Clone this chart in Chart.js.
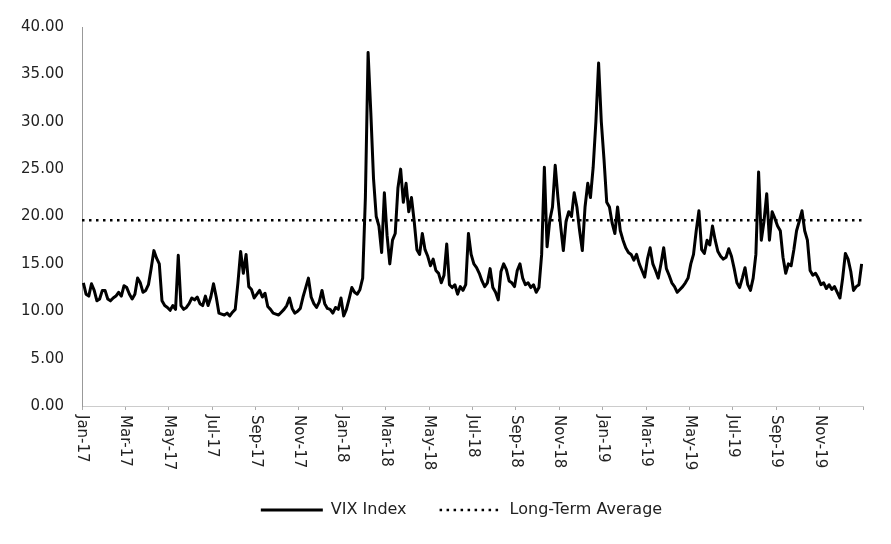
<!DOCTYPE html>
<html>
  <head>
    <title>VIX Index</title>
    <meta http-equiv="Content-Type" content="text/html;charset=utf-8" />
    <script src="https://cdn.jsdelivr.net/npm/chart.js@4"></script>
    <style>
      html, body { margin: 0; padding: 0; background: #fff; }
      #wrap { width: 891px; height: 544px; }
    </style>
    <script>
      // tick labels along the bottom, one every two months
      var monthLabels = ["Jan-17", "Mar-17", "May-17", "Jul-17", "Sep-17", "Nov-17",
        "Jan-18", "Mar-18", "May-18", "Jul-18", "Sep-18", "Nov-18",
        "Jan-19", "Mar-19", "May-19", "Jul-19", "Sep-19", "Nov-19"];
      var yTicks = [0, 5, 10, 15, 20, 25, 30, 35, 40];

      // VIX readings, 8 per month
      var vix2017 = [
        13.0, 11.8, 11.6, 12.9, 12.2, 11.1, 11.3, 12.2,
        12.2, 11.3, 11.1, 11.4, 11.6, 12.0, 11.6, 12.7,
        12.5, 11.8, 11.3, 11.8, 13.5, 13.0, 12.0, 12.2,
        12.8, 14.5, 16.4, 15.6, 15.0, 11.1, 10.6, 10.4,
        10.1, 10.6, 10.2, 15.9, 10.6, 10.2, 10.4, 10.8,
        11.4, 11.2, 11.5, 10.8, 10.6, 11.6, 10.6, 11.5,
        12.9, 11.5, 9.8, 9.7, 9.6, 9.8, 9.5, 9.9,
        10.2, 13.0, 16.3, 14.0, 16.0, 12.6, 12.3, 11.4,
        11.8, 12.2, 11.5, 11.9, 10.5, 10.2, 9.8, 9.7,
        9.6, 9.9, 10.2, 10.6, 11.4, 10.3, 9.8, 10.0,
        10.3, 11.5, 12.5, 13.5, 11.5, 10.8, 10.4, 11.0,
        12.2, 10.8, 10.3, 10.2, 9.8, 10.4, 10.2, 11.4
      ];
      var vix2018 = [
        9.5, 10.2, 11.3, 12.5, 12.0, 11.8, 12.3, 13.5,
        22.0, 37.3, 31.0, 24.0, 20.0, 19.0, 16.2, 22.5,
        18.0, 15.0, 17.5, 18.2, 23.0, 25.0, 21.5, 23.5,
        20.5, 22.0, 19.5, 16.5, 16.0, 18.2, 16.5, 15.8,
        14.8, 15.5, 14.3, 14.0, 13.0, 13.8, 17.1, 12.8,
        12.5, 12.8, 11.8, 12.6, 12.2, 12.8, 18.2, 16.0,
        15.0, 14.6, 14.0, 13.2, 12.6, 13.0, 14.5, 12.5,
        12.0, 11.2, 14.2, 15.0, 14.4, 13.2, 13.0, 12.6,
        14.3, 15.0, 13.5, 12.8, 13.0, 12.5, 12.8, 12.0,
        12.5, 16.0, 25.2, 16.8, 19.6, 21.0, 25.4, 22.0,
        19.0, 16.4, 19.5, 20.5, 20.0, 22.5, 21.0, 18.5,
        16.4, 21.0, 23.5, 22.0, 25.2, 30.0, 36.2, 30.0
      ];
      var vix2019 = [
        26.0, 21.5, 21.0, 19.3, 18.2, 21.0, 18.5, 17.5,
        16.7, 16.2, 16.0, 15.4, 16.0, 15.0, 14.3, 13.6,
        15.5, 16.7, 15.0, 14.3, 13.5, 15.0, 16.7, 14.5,
        13.8, 13.0, 12.6, 12.0, 12.3, 12.6, 13.0, 13.5,
        15.0, 16.0, 18.5, 20.6, 16.5, 16.1, 17.5, 17.0,
        19.0, 17.5, 16.3, 15.8, 15.5, 15.7, 16.6, 15.8,
        14.5, 13.0, 12.5, 13.5, 14.6, 12.8, 12.2, 13.5,
        16.0, 24.7, 17.5, 19.5, 22.4, 17.5, 20.5, 19.8,
        19.0, 18.5, 15.7, 14.0, 15.0, 14.8, 16.5, 18.5,
        19.5, 20.6, 18.5, 17.5, 14.3, 13.8, 14.0, 13.5,
        12.8, 13.0, 12.4, 12.8, 12.3, 12.6, 12.0, 11.4,
        13.5, 16.1, 15.5, 14.2, 12.2, 12.6, 12.8, 15.0
      ];
      var longTermAverage = 19.6;
      var perMonth = 8;
      var totalMonths = 36;
    </script>
  </head>
  <body>
    <div id="wrap"><canvas id="c" width="891" height="544"></canvas></div>
    <script>
      var fontFamily = "'DejaVu Sans', sans-serif";
      var textColor = "#222";

      var vixAll = vix2017.concat(vix2018, vix2019);
      var vixPoints = vixAll.map(function (v, i) {
        // x in months since Jan-17, sample sits inside its month
        return { x: Math.floor(i / perMonth) + ((i % perMonth) + 0.5) / perMonth, y: v };
      });
      var avgPoints = [
        { x: 0, y: longTermAverage },
        { x: totalMonths, y: longTermAverage },
      ];

      // Excel-style labels that read top to bottom
      var rotatedLabels = {
        id: "rotatedLabels",
        afterDraw: function (chart) {
          var xs = chart.scales.x;
          var ctx = chart.ctx;
          ctx.save();
          ctx.font = "15px " + fontFamily;
          ctx.fillStyle = textColor;
          ctx.textAlign = "left";
          ctx.textBaseline = "middle";
          for (var i = 0; i < monthLabels.length; i++) {
            var px = xs.getPixelForValue(i * 2);
            ctx.save();
            ctx.translate(px, xs.top + 9);
            ctx.rotate(Math.PI / 2);
            ctx.fillText(monthLabels[i], 0, 0);
            ctx.restore();
          }
          ctx.restore();
        },
      };

      // legend sits a little right of the canvas centre in the original
      var legendNudge = {
        id: "legendNudge",
        afterLayout: function (chart) {
          if (chart.legend) {
            chart.legend.left += 30;
            chart.legend.right += 30;
          }
        },
      };

      new Chart(document.getElementById("c"), {
        type: "line",
        data: {
          datasets: [
            {
              label: "VIX Index",
              data: vixPoints,
              borderColor: "#000",
              backgroundColor: "#000",
              borderWidth: 3,
              borderJoinStyle: "round",
              pointRadius: 0,
              pointStyle: "line",
              tension: 0,
            },
            {
              label: "Long-Term Average",
              data: avgPoints,
              borderColor: "#000",
              backgroundColor: "#000",
              borderWidth: 2.6,
              borderDash: [2.5, 4.5],
              pointRadius: 0,
              pointStyle: "line",
              tension: 0,
            },
          ],
        },
        options: {
          responsive: false,
          animation: false,
          layout: { padding: { top: 27, right: 28, bottom: 16, left: 0 } },
          plugins: {
            tooltip: { enabled: false },
            legend: {
              position: "bottom",
              labels: {
                usePointStyle: true,
                pointStyleWidth: 62,
                padding: 33,
                color: textColor,
                font: { family: fontFamily, size: 16 },
                generateLabels: function (chart) {
                  var items = Chart.defaults.plugins.legend.labels.generateLabels(chart);
                  items.forEach(function (it) {
                    var ds = chart.data.datasets[it.datasetIndex];
                    it.lineDash = ds.borderDash || [];
                    it.lineWidth = ds.borderWidth;
                    it.strokeStyle = ds.borderColor;
                  });
                  return items;
                },
              },
            },
          },
          scales: {
            x: {
              type: "linear",
              min: 0,
              max: totalMonths,
              afterBuildTicks: function (scale) {
                var t = [];
                for (var m = 0; m <= totalMonths; m += 2) t.push({ value: m });
                scale.ticks = t;
              },
              ticks: { display: false },
              grid: {
                display: true,
                drawOnChartArea: false,
                drawTicks: true,
                tickLength: 4,
                color: "#aaa",
              },
              border: { display: true, color: "#ccc", dash: [1, 7] },
              afterFit: function (scale) { scale.height = 63; },
            },
            y: {
              min: 0,
              max: 40,
              afterBuildTicks: function (scale) {
                scale.ticks = yTicks.map(function (v) { return { value: v }; });
              },
              ticks: {
                padding: 18,
                color: textColor,
                font: { family: fontFamily, size: 15 },
                callback: function (v) { return Number(v).toFixed(2); },
              },
              grid: { display: false, drawTicks: false },
              border: { display: true, color: "#999", dash: [2, 2], width: 1 },
              afterFit: function (scale) { scale.width = 82; },
            },
          },
        },
        plugins: [rotatedLabels, legendNudge],
      });
    </script>
  </body>
</html>
